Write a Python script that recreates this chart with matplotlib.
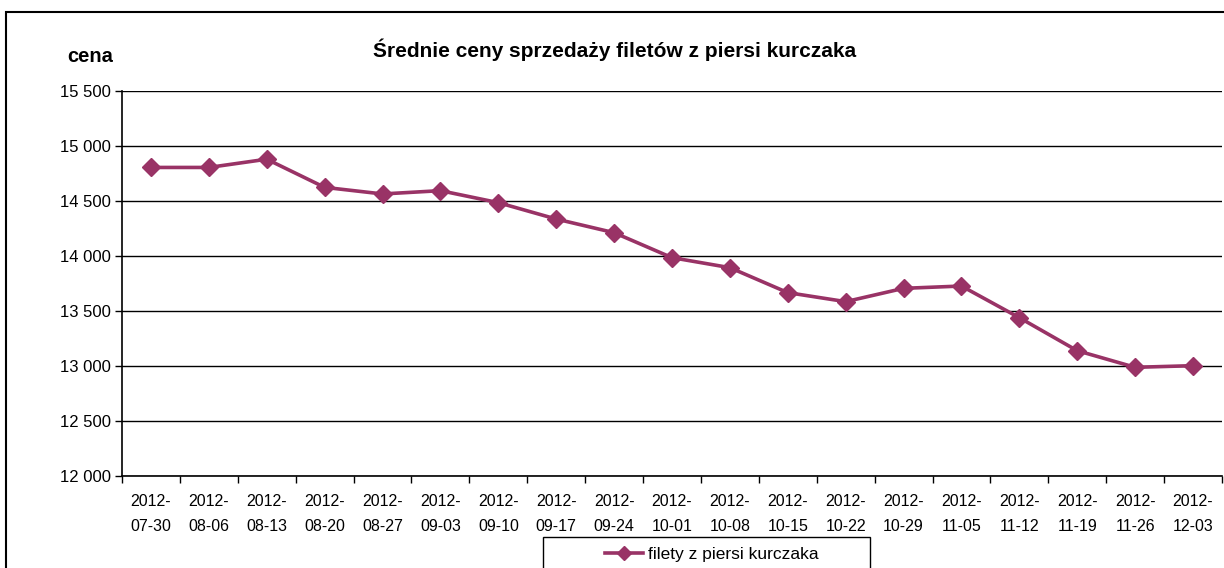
import matplotlib
matplotlib.use("Agg")
import matplotlib.pyplot as plt
from matplotlib.patches import Rectangle
from matplotlib.lines import Line2D
from matplotlib.ticker import FixedLocator, FuncFormatter, MultipleLocator

plt.rcParams['font.family'] = ['Liberation Sans', 'DejaVu Sans']

dates = ["2012-\n07-30", "2012-\n08-06", "2012-\n08-13", "2012-\n08-20", "2012-\n08-27",
         "2012-\n09-03", "2012-\n09-10", "2012-\n09-17", "2012-\n09-24", "2012-\n10-01",
         "2012-\n10-08", "2012-\n10-15", "2012-\n10-22", "2012-\n10-29", "2012-\n11-05",
         "2012-\n11-12", "2012-\n11-19", "2012-\n11-26", "2012-\n12-03"]
prices = [14805, 14805, 14880, 14624, 14564, 14594, 14485, 14336, 14212, 13985,
          13894, 13667, 13585, 13706, 13727, 13439, 13139, 12988, 13003]
series_name = "filety z piersi kurczaka"
title = "Średnie ceny sprzedaży filetów z piersi kurczaka"
ylabel = "cena"

color = "#993366"

fig = plt.figure(figsize=(12.24, 5.68), dpi=100)
ax = fig.add_axes([122/1224, 1-476/568, 1100/1224, 385/568])

x = list(range(len(prices)))
ax.plot(x, prices, color=color, lw=2.6, marker='D', ms=9.5, mec=color, mfc=color, zorder=3)

ax.set_xlim(-0.5, len(prices)-0.5)
ax.set_ylim(12000, 15500)
ax.yaxis.set_major_locator(MultipleLocator(500))
ax.yaxis.set_major_formatter(FuncFormatter(lambda v, p: f"{int(v):,}".replace(",", " ")))
ax.set_xticks(x)
ax.set_xticklabels(dates, fontsize=11.5, linespacing=1.8)
ax.xaxis.set_minor_locator(FixedLocator([i-0.5 for i in range(len(prices)+1)]))
ax.tick_params(axis='x', which='major', length=0, pad=13)
ax.tick_params(axis='x', which='minor', length=5, width=1, color='black', direction='out')
ax.tick_params(axis='y', which='major', length=5, width=1, color='black', direction='out', labelsize=12, pad=3)

ax.grid(axis='y', color='black', lw=1)
ax.set_axisbelow(True)
for s in ['top', 'right']:
    ax.spines[s].set_visible(False)
for s in ['left', 'bottom']:
    ax.spines[s].set_color('black')
    ax.spines[s].set_linewidth(1.2)

fig.text(615/1224, 1-50/568, title, ha='center', va='center', fontsize=15, fontweight='bold')
fig.text(90/1224, 1-57/568, ylabel, ha='center', va='center', fontsize=14.5, fontweight='bold')

# legend (partially cut at bottom)
leg_box = Rectangle((543/1224, 1-600/568), (870-543)/1224, 63/568, transform=fig.transFigure,
                    fill=True, facecolor='white', edgecolor='black', lw=1, clip_on=False)
fig.patches.append(leg_box)
handle = Line2D([0], [0], color=color, lw=2.6, marker='D', ms=7, mfc=color, mec=color)
leg = fig.legend([handle], [series_name], loc='center left',
                 bbox_to_anchor=(596/1224, 1-554/568), frameon=False, fontsize=12.5,
                 handlelength=2.2, handletextpad=0.3, borderpad=0)

# outer chart border
border = Rectangle((6/1224, -0.2), 1.2, 1.2 - 12/568, transform=fig.transFigure,
                   fill=False, edgecolor='black', lw=1.5, clip_on=False)
fig.patches.append(border)

fig.savefig("out.png", dpi=100)
